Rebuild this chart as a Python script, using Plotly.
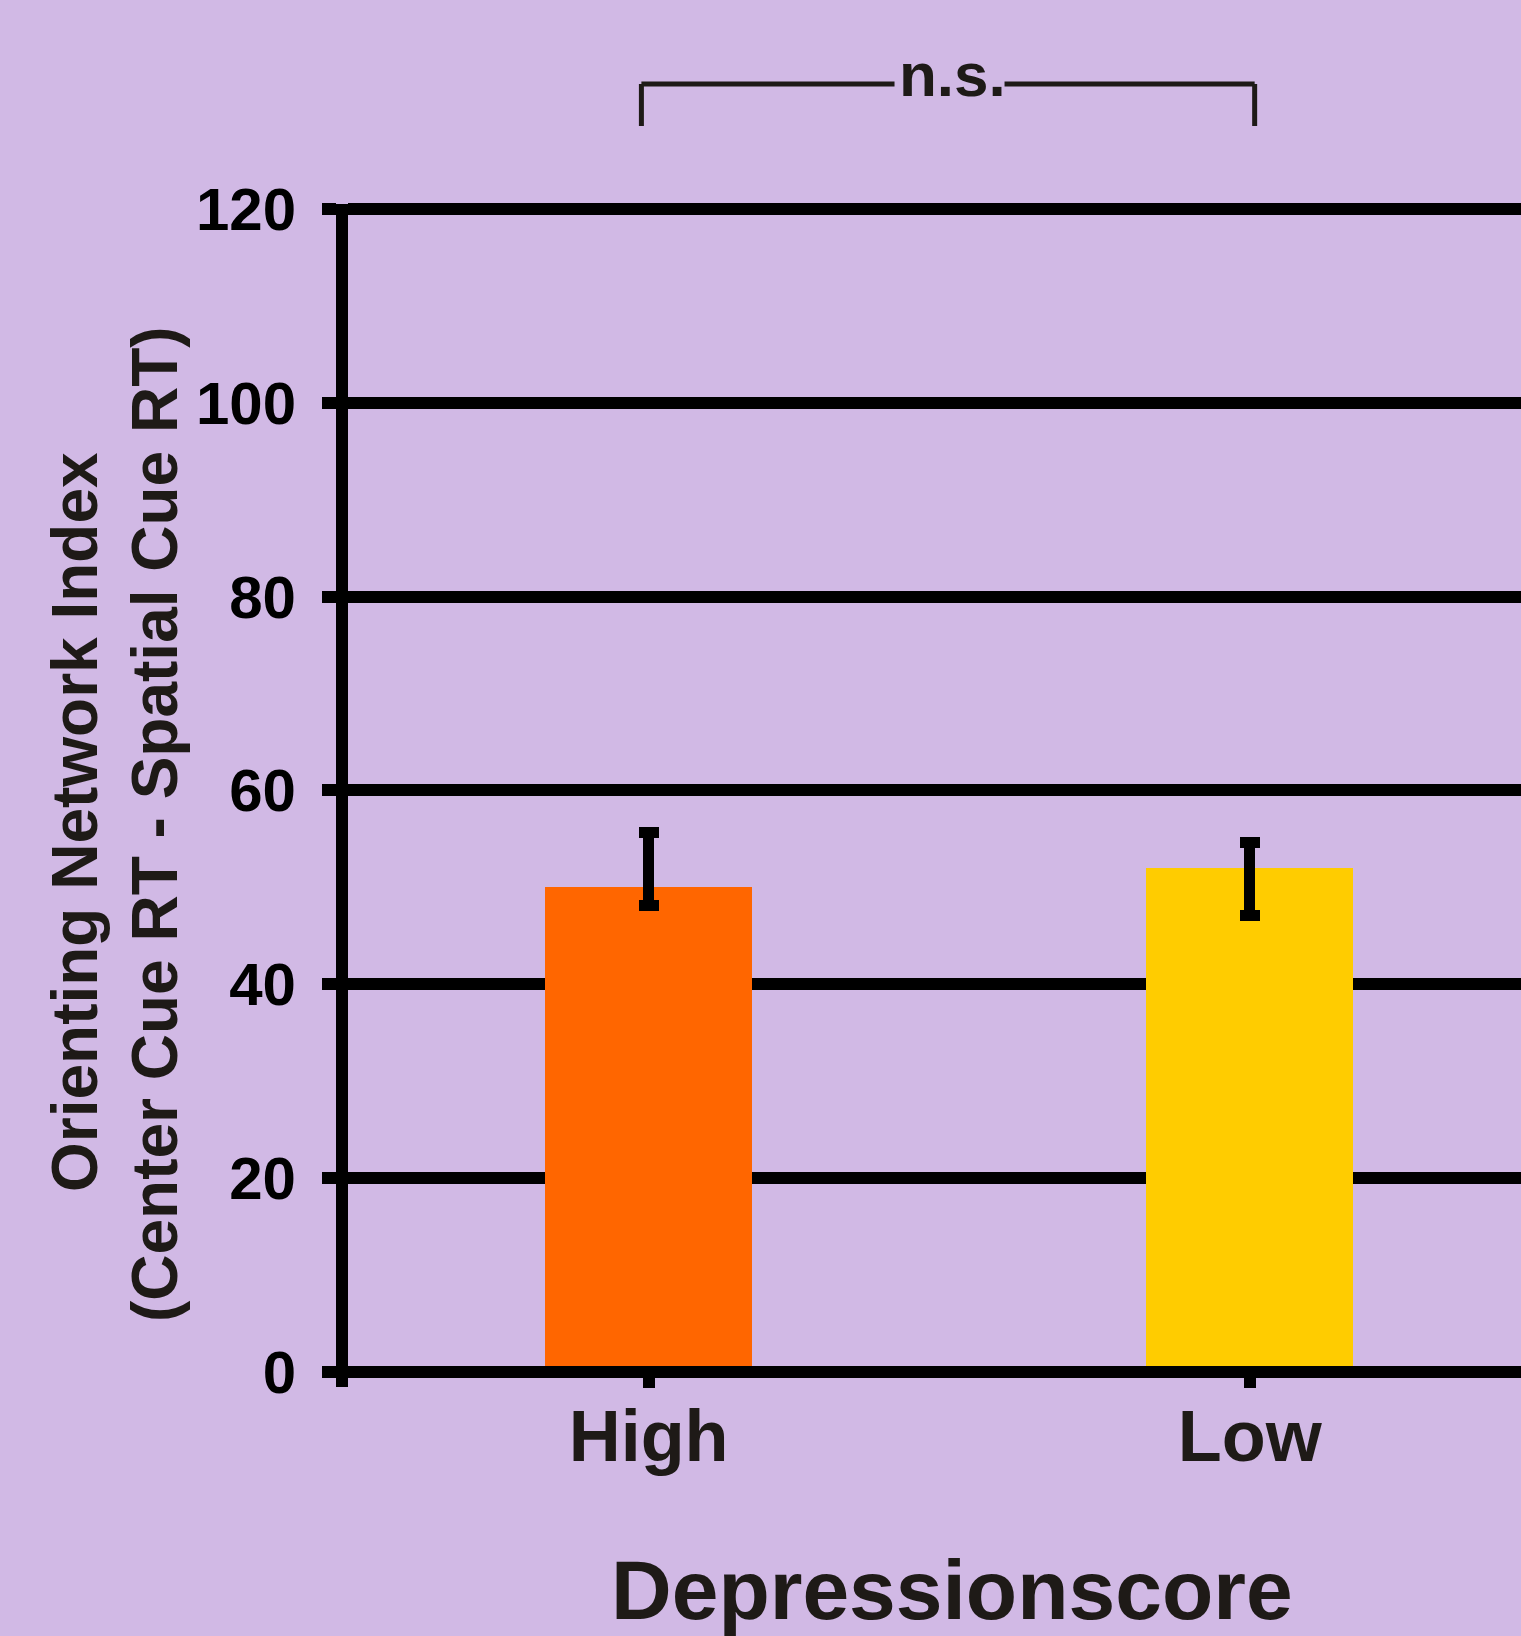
import plotly.graph_objects as go

# Data
groups = ["High", "Low"]
orienting_index = [50, 52]
err_plus = [5.7, 2.6]
err_minus = [1.9, 4.9]
bar_colors = ["#FF6600", "#FFCC00"]
y_ticks = [0, 20, 40, 60, 80, 100, 120]
sig_label = "n.s."

W, H = 1521, 1636
L, R, T, B = 348, 0, 204, 264
BG = "#D1B9E5"
INK = "#1E1A17"
FONT = "Liberation Sans, Arial, sans-serif"

plot_w = W - L - R
plot_h = H - T - B


def px(xpix):
    return (xpix - L) / plot_w


def py(ypix):
    return (H - B - ypix) / plot_h


x_pos = list(range(len(groups)))

fig = go.Figure()
fig.add_trace(go.Bar(
    x=x_pos,
    y=orienting_index,
    marker=dict(color=bar_colors, line=dict(width=0)),
    width=0.344,
    error_y=dict(type="data", symmetric=False, array=err_plus, arrayminus=err_minus,
                 color="black", thickness=11, width=10),
    cliponaxis=False,
))

# baseline along the bottom of the plot area (value 0), drawn above the bars
fig.add_shape(type="line", xref="paper", yref="paper", x0=0, x1=1, y0=0, y1=0,
              line=dict(color="black", width=12), layer="above")

# short stub of the y axis below the baseline
fig.add_shape(type="line", xref="paper", yref="paper", xsizemode="pixel", ysizemode="pixel",
              xanchor=0, yanchor=0, x0=-6, x1=-6, y0=6, y1=-15,
              line=dict(color="black", width=12))

# significance bracket between the two groups
bracket_y = py(84)
drop_y = py(126)
for xv in (-0.012, 1.008):
    fig.add_shape(type="line", xref="x", yref="paper", x0=xv, x1=xv, y0=bracket_y, y1=drop_y,
                  line=dict(color=INK, width=5))
fig.add_shape(type="line", xref="x", yref="paper", x0=-0.012, x1=0.409, y0=bracket_y, y1=bracket_y,
              line=dict(color=INK, width=5))
fig.add_shape(type="line", xref="x", yref="paper", x0=0.592, x1=1.008, y0=bracket_y, y1=bracket_y,
              line=dict(color=INK, width=5))
fig.add_annotation(text=sig_label, xref="x", yref="paper", x=0.505, y=py(74),
                   showarrow=False, xanchor="center", yanchor="middle",
                   font=dict(family=FONT, size=62, color=INK, weight="bold"))

# axis titles
fig.add_annotation(text="Orienting Network Index", xref="paper", yref="paper",
                   x=px(75), y=py(822), textangle=-90, showarrow=False,
                   xanchor="center", yanchor="middle",
                   font=dict(family=FONT, size=64, color=INK, weight="bold"))
fig.add_annotation(text="(Center Cue RT - Spatial Cue RT)", xref="paper", yref="paper",
                   x=px(155), y=py(824), textangle=-90, showarrow=False,
                   xanchor="center", yanchor="middle",
                   font=dict(family=FONT, size=64, color=INK, weight="bold"))
fig.add_annotation(text="Depressionscore", xref="paper", yref="paper",
                   x=px(952), y=py(1590), showarrow=False,
                   xanchor="center", yanchor="middle",
                   font=dict(family=FONT, size=84, color=INK, weight="bold"))

fig.update_layout(
    width=W, height=H,
    margin=dict(l=L, r=R, t=T, b=B, pad=0),
    paper_bgcolor=BG, plot_bgcolor=BG,
    showlegend=False,
    bargap=0,
)
fig.update_xaxes(
    range=[-0.5, 1.451],
    tickvals=x_pos, ticktext=groups,
    showline=False,
    ticks="outside", ticklen=15, tickwidth=12, tickcolor="black",
    ticklabelstandoff=-13,
    showgrid=False, zeroline=False,
    tickfont=dict(family=FONT, size=72, color=INK, weight="bold"),
)
fig.update_yaxes(
    range=[0, 120.5], tickvals=y_ticks,
    showline=True, linecolor="black", linewidth=12,
    ticks="outside", ticklen=14, tickwidth=12, tickcolor="black",
    ticklabelstandoff=14,
    showgrid=True, gridcolor="black", gridwidth=12,
    zeroline=False,
    tickfont=dict(family=FONT, size=60, color="black", weight="bold"),
)

fig.write_html("out.html")
